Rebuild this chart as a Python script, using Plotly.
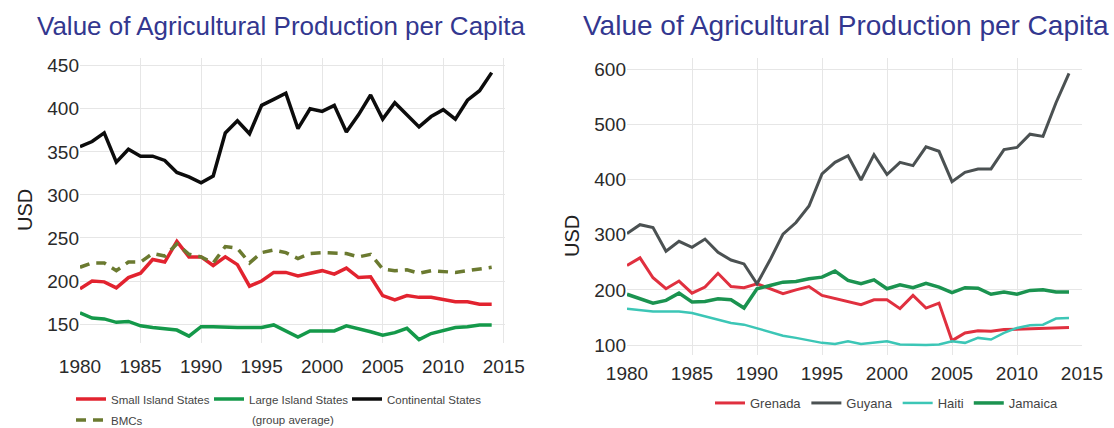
import plotly.graph_objects as go

# Years covered by both panels
years = list(range(1980, 2015))

# Left panel: group averages (USD per capita)
small_island = [191, 200, 199, 192, 204, 209, 225, 222, 246, 228, 228, 218, 228, 219, 194,
                200, 210, 210, 206, 209, 212, 208, 215, 204, 205, 183, 178, 183, 181, 181,
                178, 176, 176, 173, 173]
large_island = [163, 157, 156, 152, 153, 148, 146, 145, 143, 136, 147, 147, 146, 146, 146,
                146, 149, 142, 135, 142, 142, 142, 148, 145, 141, 137, 140, 145, 132, 139,
                143, 146, 147, 149, 149]
continental = [356, 362, 372, 338, 353, 345, 345, 340, 326, 321, 314, 322, 372, 386, 371,
               404, 411, 418, 377, 400, 397, 404, 373, 393, 416, 388, 407, 393, 379, 391,
               399, 388, 410, 421, 442]
bmcs = [216, 221, 221, 212, 222, 222, 232, 229, 243, 231, 228, 221, 240, 238, 221,
        233, 236, 233, 226, 232, 233, 232, 232, 228, 231, 214, 212, 213, 209, 212,
        211, 210, 212, 214, 216]

# Right panel: selected countries (USD per capita)
grenada = [244, 258, 222, 202, 216, 194, 205, 230, 206, 204, 211, 202, 193, 200, 206,
           190, 184, 178, 173, 182, 182, 166, 190, 167, 176, 108, 122, 126, 125, 128,
           129, 130, 131, 131, 132]
guyana = [302, 318, 313, 270, 288, 277, 292, 268, 254, 247, 211, 254, 301, 322, 352,
          410, 431, 443, 399, 445, 409, 431, 425, 459, 451, 396, 413, 419, 419, 454,
          458, 482, 478, 539, 592]
haiti = [166, 163, 161, 161, 161, 158, 152, 146, 140, 137, 130, 124, 117, 113, 108,
         104, 102, 107, 102, 104, 107, 101, 100, 100, 101, 107, 104, 113, 110, 122,
         131, 136, 137, 148, 149]
jamaica = [192, 184, 176, 181, 194, 178, 179, 184, 182, 167, 202, 208, 214, 215, 220,
           223, 234, 217, 211, 218, 202, 209, 204, 212, 205, 195, 204, 203, 192, 196,
           192, 199, 200, 196, 196]

left_ticks = [150, 200, 250, 300, 350, 400, 450]
right_ticks = [100, 200, 300, 400, 500, 600]
year_ticks = [1980, 1985, 1990, 1995, 2000, 2005, 2010, 2015]

TITLE = "Value of Agricultural Production per Capita"
W, H = 1114, 428
FONT = "Liberation Sans, Arial, sans-serif"

fig = go.Figure()

left_series = [
    ("Small Island States", small_island, "#e2232f", "solid", 3.5, "legend"),
    ("Large Island States", large_island, "#14994a", "solid", 3.5, "legend"),
    ("Continental States", continental, "#0c0c0c", "solid", 3.5, "legend"),
    ("BMCs", bmcs, "#6b7a30", "10px,7px", 3.5, "legend2"),
]
for name, vals, color, dash, width, leg in left_series:
    fig.add_trace(go.Scatter(
        x=years, y=vals, name=name, mode="lines",
        line=dict(color=color, width=width, dash=dash),
        xaxis="x", yaxis="y", legend=leg,
    ))

right_series = [
    ("Grenada", grenada, "#e0303f", 3),
    ("Guyana", guyana, "#4b5152", 3),
    ("Haiti", haiti, "#3cc6b6", 2.5),
    ("Jamaica", jamaica, "#1b9350", 3.5),
]
for name, vals, color, width in right_series:
    fig.add_trace(go.Scatter(
        x=years, y=vals, name=name, mode="lines",
        line=dict(color=color, width=width),
        xaxis="x2", yaxis="y2", legend="legend3",
    ))

axis_common = dict(
    showgrid=True, gridcolor="#e6e6e6", gridwidth=1,
    zeroline=False, showline=False, ticks="",
    tickfont=dict(family=FONT, size=19, color="#2a2a2a"),
)

def px_x(p):
    return p / W

def px_y(p):
    return 1 - p / H

legend_font = dict(family=FONT, size=11.5, color="#444444")

fig.update_layout(
    width=W, height=H,
    margin=dict(l=0, r=0, t=0, b=0, autoexpand=False),
    paper_bgcolor="white", plot_bgcolor="white",
    font=dict(family=FONT, color="#333333"),
    xaxis=dict(domain=[px_x(80), px_x(505)], range=[1980, 2015.1],
               tickvals=year_ticks, anchor="y", ticklabelstandoff=10, **axis_common),
    yaxis=dict(domain=[px_y(343), px_y(58)], range=[128, 459],
               tickvals=left_ticks, anchor="x", **axis_common),
    xaxis2=dict(domain=[px_x(627), px_x(1082)], range=[1980, 2015],
                tickvals=year_ticks, anchor="y2", ticklabelstandoff=5, **axis_common),
    yaxis2=dict(domain=[px_y(355), px_y(58)], range=[82, 620],
                tickvals=right_ticks, anchor="x2", **axis_common),
    legend=dict(orientation="h", x=px_x(71), xanchor="left", y=px_y(399), yanchor="middle",
                font=legend_font, entrywidth=93, bgcolor="rgba(0,0,0,0)"),
    legend2=dict(orientation="h", x=px_x(71), xanchor="left", y=px_y(420), yanchor="middle",
                 font=legend_font, bgcolor="rgba(0,0,0,0)"),
    legend3=dict(orientation="h", x=px_x(710), xanchor="left", y=px_y(403), yanchor="middle",
                 font=dict(family=FONT, size=13, color="#444444"),
                 bgcolor="rgba(0,0,0,0)"),
    annotations=[
        dict(text=TITLE, x=px_x(282), y=px_y(26), xref="paper", yref="paper",
             xanchor="center", yanchor="middle", showarrow=False,
             font=dict(family=FONT, size=26, color="#33378f")),
        dict(text=TITLE, x=px_x(846), y=px_y(26), xref="paper", yref="paper",
             xanchor="center", yanchor="middle", showarrow=False,
             font=dict(family=FONT, size=28, color="#33378f")),
        dict(text="USD", x=px_x(25), y=px_y(210), xref="paper", yref="paper",
             xanchor="center", yanchor="middle", showarrow=False, textangle=-90,
             font=dict(family=FONT, size=20, color="#222222")),
        dict(text="USD", x=px_x(572), y=px_y(236), xref="paper", yref="paper",
             xanchor="center", yanchor="middle", showarrow=False, textangle=-90,
             font=dict(family=FONT, size=20, color="#222222")),
        # second line of the "Large Island States" legend entry
        dict(text="(group average)", x=px_x(250), y=px_y(420), xref="paper", yref="paper",
             xanchor="left", yanchor="middle", showarrow=False,
             font=legend_font),
    ],
)

fig.write_html("out.html")
